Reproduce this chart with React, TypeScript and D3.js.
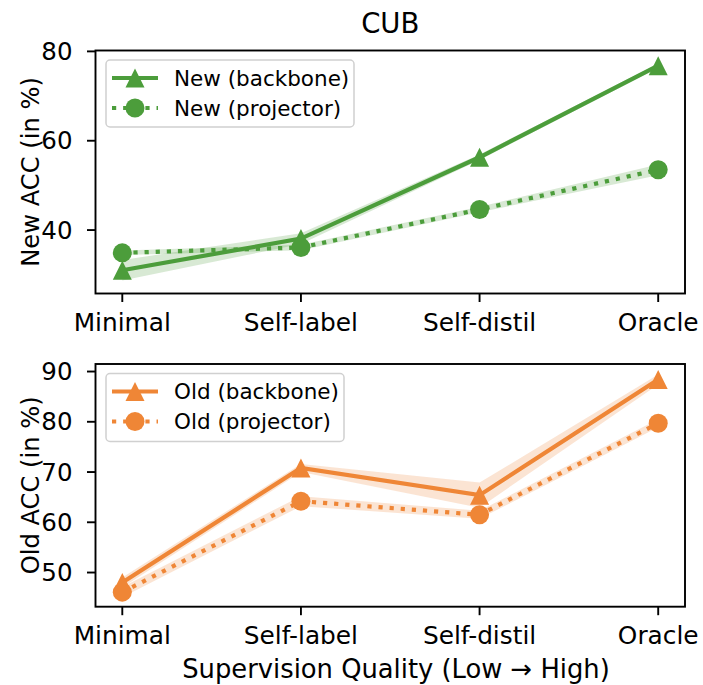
import React from "react";
import * as d3 from "d3";

const categories = ["Minimal", "Self-label", "Self-distil", "Oracle"];

const newBackbone = [31.0, 38.1, 56.3, 76.8];
const newBackboneStd = [2.3, 1.2, 0.6, 0.5];
const newProjector = [34.9, 36.1, 44.6, 53.5];
const newProjectorStd = [0.5, 0.6, 0.6, 1.2];

const oldBackbone = [48.0, 70.8, 65.4, 88.4];
const oldBackboneStd = [1.0, 0.8, 2.5, 1.0];
const oldProjector = [46.1, 64.2, 61.5, 79.7];
const oldProjectorStd = [1.0, 1.0, 0.8, 0.8];

const newTicks = [40, 60, 80];
const oldTicks = [50, 60, 70, 80, 90];

const GREEN = "#4c9d3b";
const ORANGE = "#ef8636";
const FONT = "DejaVu Sans, sans-serif";

const W = 703;
const H = 685;
const LEFT = 95.5;
const RIGHT = 685;
const LW = 4.2;
const DOT = `${LW} ${LW * 1.65}`;

const x = d3
  .scalePoint<string>()
  .domain(categories)
  .range([LEFT, RIGHT])
  .padding(0.15);

type PanelProps = {
  top: number;
  bottom: number;
  domain: [number, number];
  ticks: number[];
  ylabel: string;
  color: string;
  backbone: number[];
  backboneStd: number[];
  projector: number[];
  projectorStd: number[];
  legendNames: [string, string];
  legendWidth: number;
  legendHeight: number;
  clipId: string;
};

function Triangle({ cx, cy, s, color }: { cx: number; cy: number; s: number; color: string }) {
  const h = s / 2;
  return (
    <path
      d={`M${cx},${cy - h}L${cx - h},${cy + h}L${cx + h},${cy + h}Z`}
      fill={color}
    />
  );
}

function Panel(p: PanelProps) {
  const y = d3.scaleLinear().domain(p.domain).range([p.bottom, p.top]);
  const line = d3
    .line<number>()
    .x((_, i) => x(categories[i]) as number)
    .y((d) => y(d));
  const area = (vals: number[], std: number[]) =>
    d3
      .area<number>()
      .x((_, i) => x(categories[i]) as number)
      .y0((d, i) => y(d - std[i]))
      .y1((d, i) => y(d + std[i]))(vals) as string;

  const lx = LEFT + 10.5;
  const ly = p.top + 9.5;
  const row1 = ly + 18;
  const row2 = ly + 48;

  return (
    <g>
      <defs>
        <clipPath id={p.clipId}>
          <rect x={LEFT} y={p.top} width={RIGHT - LEFT} height={p.bottom - p.top} />
        </clipPath>
      </defs>
      <g clipPath={`url(#${p.clipId})`}>
        <path d={area(p.backbone, p.backboneStd)} fill={p.color} opacity={0.22} />
        <path d={area(p.projector, p.projectorStd)} fill={p.color} opacity={0.22} />
        <path d={line(p.projector) as string} fill="none" stroke={p.color} strokeWidth={LW} strokeDasharray={DOT} />
        <path d={line(p.backbone) as string} fill="none" stroke={p.color} strokeWidth={LW} />
      </g>
      {p.projector.map((v, i) => (
        <circle key={"c" + i} cx={x(categories[i]) as number} cy={y(v)} r={9.5} fill={p.color} />
      ))}
      {p.backbone.map((v, i) => (
        <Triangle key={"t" + i} cx={x(categories[i]) as number} cy={y(v)} s={19} color={p.color} />
      ))}
      <rect
        x={LEFT}
        y={p.top}
        width={RIGHT - LEFT}
        height={p.bottom - p.top}
        fill="none"
        stroke="#000"
        strokeWidth={1.9}
      />
      {p.ticks.map((t) => (
        <g key={t}>
          <line x1={LEFT - 8.5} x2={LEFT} y1={y(t)} y2={y(t)} stroke="#000" strokeWidth={1.9} />
          <text
            x={LEFT - 23}
            y={y(t)}
            textAnchor="end"
            dominantBaseline="central"
            fontFamily={FONT}
            fontSize={24.5}
            fill="#000"
          >
            {t}
          </text>
        </g>
      ))}
      {categories.map((c) => (
        <g key={c}>
          <line
            x1={x(c) as number}
            x2={x(c) as number}
            y1={p.bottom}
            y2={p.bottom + 8.5}
            stroke="#000"
            strokeWidth={1.9}
          />
          <text
            x={x(c) as number}
            y={p.bottom + 37.5}
            textAnchor="middle"
            fontFamily={FONT}
            fontSize={24.8}
            fill="#000"
          >
            {c}
          </text>
        </g>
      ))}
      <text
        transform={`translate(39,${(p.top + p.bottom) / 2}) rotate(-90)`}
        textAnchor="middle"
        fontFamily={FONT}
        fontSize={24.2}
        fill="#000"
      >
        {p.ylabel}
      </text>
      <rect
        x={lx}
        y={ly}
        width={p.legendWidth}
        height={p.legendHeight}
        rx={4}
        fill="#fff"
        fillOpacity={0.8}
        stroke="#d0d0d0"
        strokeWidth={1.5}
      />
      <line x1={lx + 6} x2={lx + 52} y1={row1} y2={row1} stroke={p.color} strokeWidth={LW} />
      <Triangle cx={lx + 29} cy={row1} s={19} color={p.color} />
      <line x1={lx + 6} x2={lx + 52} y1={row2} y2={row2} stroke={p.color} strokeWidth={LW} strokeDasharray={DOT} />
      <circle cx={lx + 29} cy={row2} r={9.5} fill={p.color} />
      <text x={lx + 68} y={row1} dominantBaseline="central" fontFamily={FONT} fontSize={21.5} fill="#000">
        {p.legendNames[0]}
      </text>
      <text x={lx + 68} y={row2} dominantBaseline="central" fontFamily={FONT} fontSize={21.5} fill="#000">
        {p.legendNames[1]}
      </text>
    </g>
  );
}

export default function App() {
  return (
    <svg width={W} height={H} style={{ display: "block", position: "absolute", left: 0, top: 0 }}>
      <rect x={0} y={0} width={W} height={H} fill="#fff" />
      <text x={(LEFT + RIGHT) / 2} y={33} textAnchor="middle" fontFamily={FONT} fontSize={27.5} fill="#000">
        CUB
      </text>
      <Panel
        top={50.5}
        bottom={293.5}
        domain={[25.8, 80.2]}
        ticks={newTicks}
        ylabel="New ACC (in %)"
        color={GREEN}
        backbone={newBackbone}
        backboneStd={newBackboneStd}
        projector={newProjector}
        projectorStd={newProjectorStd}
        legendNames={["New (backbone)", "New (projector)"]}
        legendWidth={248}
        legendHeight={67}
        clipId="clipTop"
      />
      <Panel
        top={364}
        bottom={606.7}
        domain={[43.2, 91.5]}
        ticks={oldTicks}
        ylabel="Old ACC (in %)"
        color={ORANGE}
        backbone={oldBackbone}
        backboneStd={oldBackboneStd}
        projector={oldProjector}
        projectorStd={oldProjectorStd}
        legendNames={["Old (backbone)", "Old (projector)"]}
        legendWidth={238}
        legendHeight={68}
        clipId="clipBottom"
      />
      <text x={396} y={678} textAnchor="middle" fontFamily={FONT} fontSize={25.8} fill="#000">
        Supervision Quality (Low → High)
      </text>
    </svg>
  );
}
